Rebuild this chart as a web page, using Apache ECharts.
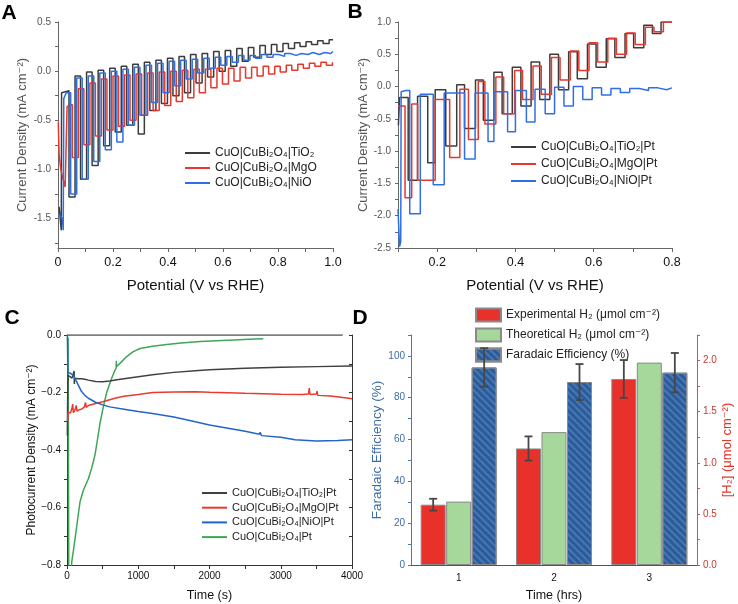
<!DOCTYPE html>
<html><head><meta charset="utf-8">
<script src="https://cdn.jsdelivr.net/npm/echarts@6/dist/echarts.min.js"></script>
<style>html,body{margin:0;padding:0;background:#fff}#c{width:738px;height:604px}</style>
</head><body><div id="c"></div>
<script>
// ---------- Panel A (chopped LSV, V vs RHE) ----------
const aNames = ['CuO|CuBi₂O₄|TiO₂', 'CuO|CuBi₂O₄|MgO', 'CuO|CuBi₂O₄|NiO'];
const aEnd = 1.0;
// TiO2
const aTiStart = [[0.004,-1.38],[0.012,-1.62],[0.013,-0.22],[0.02,-0.2]];
const aTiOn  = [0.040,0.082,0.124,0.166,0.208,0.250,0.292,0.334,0.376,0.418,0.460,0.502,0.544,0.586,0.628,0.670,0.712,0.754,0.796,0.838,0.880,0.922,0.964];
const aTiOff = [0.062,0.104,0.146,0.188,0.230,0.272,0.314,0.356,0.398,0.440,0.482,0.524,0.566,0.608,0.650,0.692,0.734,0.776,0.818,0.860,0.902,0.944,0.986];
const aTiLight = [-1.28,-1.10,-0.96,-0.76,-0.62,-0.55,-0.64,-0.40,-0.33,-0.25,-0.22,-0.12,-0.06,0.00,0.05,0.10,0.14,0.17,0.20,0.23,0.25,0.27,0.28];
const aTiDark  = [-0.05,-0.01,0.01,0.03,0.05,0.07,0.09,0.11,0.13,0.15,0.17,0.18,0.20,0.21,0.23,0.24,0.26,0.27,0.28,0.29,0.30,0.31,0.32];
// MgO
const aMgStart = [[0.001,-0.52],[0.004,-0.85],[0.010,-1.00],[0.026,-1.18],[0.032,-1.20],[0.033,-0.36],[0.040,-0.34]];
const aMgOn  = [0.052,0.094,0.136,0.178,0.220,0.262,0.304,0.346,0.388,0.430,0.472,0.514,0.556,0.598,0.640,0.682,0.724,0.766,0.808,0.850,0.892,0.934,0.976];
const aMgOff = [0.074,0.116,0.158,0.200,0.242,0.284,0.326,0.368,0.410,0.452,0.494,0.536,0.578,0.620,0.662,0.704,0.746,0.788,0.830,0.872,0.914,0.956,0.998];
const aMgLight = [-0.88,-0.75,-0.66,-0.60,-0.56,-0.50,-0.45,-0.40,-0.35,-0.31,-0.27,-0.22,-0.17,-0.13,-0.10,-0.07,-0.05,-0.03,-0.01,0.01,0.03,0.05,0.06];
const aMgDark  = [-0.18,-0.12,-0.08,-0.05,-0.04,-0.03,-0.02,-0.01,0.00,0.01,0.02,0.02,0.03,0.03,0.04,0.04,0.05,0.05,0.06,0.07,0.08,0.09,0.09];
// NiO
const aNiStart = [[0.002,-1.45],[0.016,-1.50],[0.019,-1.62],[0.021,-0.28],[0.030,-0.22]];
const aNiOn  = [0.046,0.088,0.130,0.172,0.214,0.256,0.298,0.340,0.382,0.424,0.466,0.508,0.550,0.592,0.634,0.676,0.718,0.760,0.802,0.844,0.886,0.928,0.970];
const aNiOff = [0.068,0.110,0.152,0.194,0.236,0.278,0.320,0.362,0.404,0.446,0.488,0.530,0.572,0.614,0.656,0.698,0.740,0.782,0.824,0.866,0.908,0.950,0.992];
const aNiLight = [-1.25,-1.10,-0.92,-0.80,-0.72,-0.55,-0.45,-0.32,-0.22,-0.15,-0.08,-0.02,0.03,0.06,0.09,0.11,0.13,0.14,0.15,0.16,0.17,0.17,0.18];
const aNiDark  = [-0.07,-0.05,-0.02,0.00,0.02,0.04,0.06,0.08,0.10,0.11,0.12,0.13,0.14,0.15,0.16,0.16,0.17,0.17,0.18,0.18,0.19,0.19,0.20];

// ---------- Panel B (chopped LSV with Pt) ----------
const bNames = ['CuO|CuBi₂O₄|TiO₂|Pt', 'CuO|CuBi₂O₄|MgO|Pt', 'CuO|CuBi₂O₄|NiO|Pt'];
const bEnd = 0.8;
const bTiStart = [[0.101,-0.6],[0.104,-0.17],[0.11,-0.17]];
const bTiOn  = [0.126,0.176,0.222,0.270,0.318,0.366,0.414,0.462,0.510,0.558,0.606,0.654,0.702,0.750];
const bTiOff = [0.150,0.195,0.250,0.298,0.345,0.392,0.440,0.488,0.536,0.584,0.632,0.680,0.728,0.772];
const bTiLight = [-1.45,-1.18,-0.92,-0.65,-0.52,-0.42,-0.30,-0.20,-0.05,0.12,0.30,0.45,0.60,0.82];
const bTiDark  = [-0.15,-0.05,0.03,0.10,0.22,0.30,0.38,0.50,0.54,0.66,0.74,0.82,0.95,1.00];
const bMgStart = [[0.100,-0.30]];
const bMgOn  = [0.118,0.150,0.232,0.280,0.322,0.370,0.418,0.466,0.514,0.562,0.610,0.658,0.706,0.754];
const bMgOff = [0.135,0.195,0.258,0.305,0.350,0.398,0.445,0.492,0.540,0.588,0.636,0.684,0.732,0.778];
const bMgLight = [-1.72,-1.45,-1.10,-0.82,-0.58,-0.42,-0.20,-0.12,0.10,0.25,0.38,0.50,0.65,0.85];
const bMgDark  = [-0.27,-0.20,-0.04,0.08,0.15,0.25,0.32,0.45,0.55,0.68,0.75,0.83,0.92,1.00];
const bNiStart = [[0.100,-1.90],[0.104,-2.48],[0.107,-2.40],[0.108,-0.08],[0.12,-0.06]];
const bNiOn  = [0.130,0.190,0.270,0.330,0.380,0.428,0.476,0.524,0.572,0.620,0.668,0.716,0.764];
const bNiOff = [0.157,0.218,0.297,0.345,0.400,0.450,0.500,0.548,0.596,0.644,0.692,0.740,0.786];
const bNiLight = [-1.97,-1.52,-1.12,-0.85,-0.70,-0.55,-0.42,-0.30,-0.20,-0.13,-0.09,-0.06,-0.05];
const bNiDark  = [-0.12,-0.10,-0.10,-0.08,-0.06,-0.04,-0.01,0.00,-0.02,-0.03,-0.03,-0.02,-0.02];

// ---------- Panel C (chronoamperometry) ----------
const cNames = ['CuO|CuBi₂O₄|TiO₂|Pt\u200B', 'CuO|CuBi₂O₄|MgO|Pt\u200B', 'CuO|CuBi₂O₄|NiO|Pt\u200B', 'CuO|CuBi₂O₄|Pt'];
const cZero = [[0,0],[3870,0]];
const cTi = [[5,-0.35],[10,-0.2],[15,-0.14],[40,-0.145],[70,-0.15],[95,-0.15],[100,-0.125],[103,-0.17],[108,-0.15],[150,-0.152],[200,-0.152],[250,-0.154],[300,-0.157],[400,-0.162],[500,-0.163],[600,-0.16],[700,-0.156],[800,-0.152],[1000,-0.145],[1200,-0.138],[1500,-0.13],[1800,-0.124],[2000,-0.121],[2500,-0.116],[3000,-0.112],[3500,-0.11],[4000,-0.108]];
const cMg = [[8,-0.30],[15,-0.27],[30,-0.265],[50,-0.27],[70,-0.255],[80,-0.24],[90,-0.27],[110,-0.262],[130,-0.245],[140,-0.265],[170,-0.26],[200,-0.258],[240,-0.252],[260,-0.235],[270,-0.252],[300,-0.245],[400,-0.238],[500,-0.232],[600,-0.225],[700,-0.218],[800,-0.213],[1000,-0.207],[1200,-0.2],[1500,-0.198],[1800,-0.197],[2000,-0.199],[2500,-0.203],[3000,-0.206],[3300,-0.207],[3390,-0.205],[3400,-0.185],[3410,-0.207],[3500,-0.205],[3510,-0.195],[3520,-0.21],[3700,-0.212],[3900,-0.218],[4000,-0.222]];
const cNi = [[5,0],[8,-0.05],[12,-0.13],[30,-0.13],[60,-0.135],[100,-0.145],[150,-0.17],[200,-0.195],[250,-0.21],[300,-0.22],[400,-0.234],[500,-0.243],[600,-0.25],[800,-0.258],[1000,-0.266],[1200,-0.273],[1500,-0.285],[1800,-0.302],[2000,-0.313],[2300,-0.326],[2500,-0.335],[2700,-0.345],[2710,-0.338],[2730,-0.35],[3000,-0.356],[3200,-0.364],[3500,-0.369],[3800,-0.367],[4000,-0.364]];
const cPt = [[16,-0.01],[20,-0.4],[26,-0.95],[50,-1.0],[66,-0.79],[90,-0.75],[112,-0.71],[150,-0.64],[183,-0.58],[230,-0.54],[300,-0.5],[350,-0.46],[393,-0.417],[430,-0.36],[463,-0.307],[510,-0.25],[557,-0.2],[620,-0.155],[674,-0.122],[690,-0.115],[692,-0.09],[694,-0.11],[750,-0.097],[838,-0.075],[930,-0.058],[1025,-0.047],[1200,-0.039],[1400,-0.033],[1600,-0.028],[1870,-0.023],[2100,-0.02],[2340,-0.017],[2550,-0.015],[2755,-0.013]];

// ---------- Panel D (bars) ----------
const dCats = ['1', '2', '3'];
const dNames = ['Experimental H₂ (μmol cm⁻²)', 'Theoretical H₂ (μmol cm⁻²)', 'Faradaic Efficiency (%)'];
const expH2 = [0.59, 1.14, 1.82];
const expErr = [0.058, 0.118, 0.185];
const theoH2 = [0.62, 1.30, 1.98];
const fe = [94.5, 87.5, 92.0];
const feErr = [9.2, 8.6, 9.4];

// ---------- helpers ----------
function steps(start, on, off, light, dark, endX) {
  const pts = start.map(p => p.slice());
  let prev = start[start.length - 1][1];
  for (let i = 0; i < on.length; i++) {
    pts.push([on[i], prev], [on[i], light[i]], [off[i], light[i]], [off[i], dark[i]]);
    prev = dark[i];
  }
  pts.push([endX, prev]);
  return pts;
}
const FONT = 'Liberation Sans, Arial, DejaVu Sans, sans-serif';
const K = '#3c3c3c', R = '#e8372c', B = '#2f6fe4';

function lineSeries(name, data, color, xi, yi, w) {
  return { type: 'line', name, data, xAxisIndex: xi, yAxisIndex: yi, showSymbol: false, symbol: 'none',
    lineStyle: { color, width: w || 1.5 }, itemStyle: { color }, animation: false, clip: true, silent: true };
}

function evenTenth(v) { return Math.round(v * 10) % 2 === 0; }

const chart = echarts.init(document.getElementById('c'), null, { renderer: 'canvas' });
const axisGray = { onZero: false, lineStyle: { color: '#666', width: 1 } };

const errRender = (offset) => function (params, api) {
  const cat = api.value(0), v = api.value(1), e = api.value(2);
  const top = api.coord([cat, v + e]), bot = api.coord([cat, v - e]);
  const x = top[0] + offset, hw = 4;
  const st = { stroke: '#474747', lineWidth: 1.8 };
  return { type: 'group', children: [
    { type: 'line', shape: { x1: x, y1: top[1], x2: x, y2: bot[1] }, style: st },
    { type: 'line', shape: { x1: x - hw, y1: top[1], x2: x + hw, y2: top[1] }, style: st },
    { type: 'line', shape: { x1: x - hw, y1: bot[1], x2: x + hw, y2: bot[1] }, style: st }
  ]};
};

const legText = (size, lh) => ({ fontSize: size, lineHeight: lh, color: '#222', fontFamily: FONT });

const option = {
  backgroundColor: '#fff',
  textStyle: { fontFamily: FONT },
  animation: false,
  grid: [
    { left: 58, top: 22, width: 275, height: 226 },
    { left: 398, top: 22, width: 274, height: 226 },
    { left: 67, top: 335, width: 285, height: 230 },
    { left: 411, top: 335, width: 286, height: 230 }
  ],
  xAxis: [
    { type: 'value', gridIndex: 0, min: 0, max: 1, interval: 0.1, splitLine: { show: false },
      axisLine: axisGray, axisTick: { length: 4, lineStyle: { color: '#666' } },
      axisLabel: { color: '#111', fontSize: 12.5, margin: 8, formatter: v => evenTenth(v) ? (Math.round(v * 10) === 0 ? '0' : v.toFixed(1)) : '' },
      name: 'Potential (V vs RHE)', nameLocation: 'middle', nameGap: 30, nameTextStyle: { color: '#111', fontSize: 15 } },
    { type: 'value', gridIndex: 1, min: 0.1, max: 0.8, interval: 0.1, splitLine: { show: false },
      axisLine: axisGray, axisTick: { length: 4, lineStyle: { color: '#666' } },
      axisLabel: { color: '#111', fontSize: 12.5, margin: 8, formatter: v => evenTenth(v) ? v.toFixed(1) : '' },
      name: 'Potential (V vs RHE)', nameLocation: 'middle', nameGap: 30, nameTextStyle: { color: '#111', fontSize: 15 } },
    { type: 'value', gridIndex: 2, min: 0, max: 4000, interval: 500, splitLine: { show: false },
      axisLine: { onZero: false, lineStyle: { color: '#333' } }, axisTick: { length: 4, lineStyle: { color: '#333' } },
      axisLabel: { color: '#111', fontSize: 10, margin: 6, formatter: v => (v % 1000 === 0 ? String(v) : '') },
      name: 'Time (s)', nameLocation: 'middle', nameGap: 24, nameTextStyle: { color: '#111', fontSize: 12.5 } },
    { type: 'category', gridIndex: 3, data: dCats, axisTick: { alignWithLabel: true, length: 4, lineStyle: { color: '#555' } },
      axisLine: { onZero: false, lineStyle: { color: '#555' } },
      axisLabel: { color: '#111', fontSize: 10, margin: 8 },
      name: 'Time (hrs)', nameLocation: 'middle', nameGap: 24, nameTextStyle: { color: '#111', fontSize: 12.5 } }
  ],
  yAxis: [
    { type: 'value', gridIndex: 0, min: -1.8, max: 0.5, splitLine: { show: false },
      axisLine: { show: true, onZero: false, lineStyle: { color: '#666' } },
      axisTick: { show: true, length: 3, customValues: [-1.75,-1.5,-1.25,-1,-0.75,-0.5,-0.25,0,0.25,0.5], lineStyle: { color: '#666' } },
      axisLabel: { color: '#555', fontSize: 10, margin: 7, customValues: [-1.5,-1,-0.5,0,0.5], formatter: v => v.toFixed(1) },
      name: 'Current Density (mA cm⁻²)', nameLocation: 'middle', nameGap: 29, nameTextStyle: { color: '#555', fontSize: 13 } },
    { type: 'value', gridIndex: 1, min: -2.5, max: 1.0, interval: 0.25, splitLine: { show: false },
      axisLine: { show: true, onZero: false, lineStyle: { color: '#666' } },
      axisTick: { show: true, length: 3, lineStyle: { color: '#666' } },
      axisLabel: { color: '#555', fontSize: 10, margin: 7, formatter: v => (Math.round(v * 4) % 2 === 0 ? v.toFixed(1) : '') },
      name: 'Current Density (mA cm⁻²)', nameLocation: 'middle', nameGap: 26, nameTextStyle: { color: '#555', fontSize: 13 } },
    { type: 'value', gridIndex: 2, min: -0.8, max: 0, interval: 0.1, splitLine: { show: false },
      axisLine: { show: true, onZero: false, lineStyle: { color: '#333' } },
      axisTick: { show: true, length: 3, lineStyle: { color: '#333' } },
      axisLabel: { color: '#111', fontSize: 10, margin: 6, formatter: v => (evenTenth(v) ? (Math.abs(v) < 1e-9 ? '0.0' : '−' + Math.abs(v).toFixed(1)) : '') },
      name: 'Photocurrent Density (mA cm⁻²)', nameLocation: 'middle', nameGap: 29, nameTextStyle: { color: '#111', fontSize: 12 } },
    { type: 'value', gridIndex: 2, position: 'right', min: -0.8, max: 0, interval: 0.1, splitLine: { show: false },
      axisLine: { show: true, onZero: false, lineStyle: { color: '#333' } },
      axisTick: { show: true, inside: true, length: 3, lineStyle: { color: '#333' } },
      axisLabel: { show: false } },
    { type: 'value', gridIndex: 3, min: 0, max: 110, interval: 10, splitLine: { show: false },
      axisLine: { show: true, onZero: false, lineStyle: { color: '#4a78b0' } },
      axisTick: { show: true, length: 3, lineStyle: { color: '#4a78b0' } },
      axisLabel: { color: '#3d6ca8', fontSize: 10, margin: 6, formatter: v => (v % 20 === 0 && v <= 100 ? String(v) : '') },
      name: 'Faradaic Efficiency (%)', nameLocation: 'middle', nameGap: 26, nameTextStyle: { color: '#3d6ca8', fontSize: 13.5 } },
    { type: 'value', gridIndex: 3, position: 'right', min: 0, max: 2.25, interval: 0.25, splitLine: { show: false },
      axisLine: { show: true, onZero: false, lineStyle: { color: '#c9554d' } },
      axisTick: { show: true, length: 3, lineStyle: { color: '#c9554d' } },
      axisLabel: { color: '#cc3a30', fontSize: 10, margin: 6, formatter: v => (Math.round(v * 4) % 2 === 0 ? v.toFixed(1) : '') },
      name: '[H₂] (μmol cm⁻²)', nameLocation: 'middle', nameGap: 24, nameTextStyle: { color: '#e0352b', fontSize: 13 } }
  ],
  legend: [
    { data: aNames, orient: 'vertical', left: 185, top: 145.5, padding: 0, icon: 'rect', itemWidth: 25, itemHeight: 2, itemGap: 0,
      textStyle: legText(12, 15), selectedMode: false },
    { data: bNames, orient: 'vertical', left: 511, top: 139.5, padding: 0, icon: 'rect', itemWidth: 25, itemHeight: 2, itemGap: 2,
      textStyle: legText(12, 15), selectedMode: false },
    { data: cNames, orient: 'vertical', left: 202, top: 486.5, padding: 0, icon: 'rect', itemWidth: 25, itemHeight: 2, itemGap: 1.7,
      textStyle: legText(11, 13), formatter: n => n.replace('\u200B', ''), selectedMode: false },
    { data: dNames, orient: 'vertical', left: 475, top: 307.5, padding: 0, icon: 'rect', itemWidth: 25, itemHeight: 13, itemGap: 5,
      textStyle: legText(12, 13), selectedMode: false }
  ],
  graphic: [
    { type: 'text', style: { text: 'A', x: 9, y: 13, align: 'center', verticalAlign: 'middle', fontSize: 21, fontWeight: 'bold', fontFamily: FONT, fill: '#000' } },
    { type: 'text', style: { text: 'B', x: 355, y: 12, align: 'center', verticalAlign: 'middle', fontSize: 21, fontWeight: 'bold', fontFamily: FONT, fill: '#000' } },
    { type: 'text', style: { text: 'C', x: 12, y: 318, align: 'center', verticalAlign: 'middle', fontSize: 21, fontWeight: 'bold', fontFamily: FONT, fill: '#000' } },
    { type: 'text', style: { text: 'D', x: 360, y: 318, align: 'center', verticalAlign: 'middle', fontSize: 21, fontWeight: 'bold', fontFamily: FONT, fill: '#000' } }
  ],
  series: [
    lineSeries(aNames[0], steps(aTiStart, aTiOn, aTiOff, aTiLight, aTiDark, aEnd), K, 0, 0),
    lineSeries(aNames[1], steps(aMgStart, aMgOn, aMgOff, aMgLight, aMgDark, aEnd), R, 0, 0),
    lineSeries(aNames[2], steps(aNiStart, aNiOn, aNiOff, aNiLight, aNiDark, aEnd), B, 0, 0),
    lineSeries(bNames[0], steps(bTiStart, bTiOn, bTiOff, bTiLight, bTiDark, bEnd), K, 1, 1),
    lineSeries(bNames[1], steps(bMgStart, bMgOn, bMgOff, bMgLight, bMgDark, bEnd), R, 1, 1),
    lineSeries(bNames[2], steps(bNiStart, bNiOn, bNiOff, bNiLight, bNiDark, bEnd), B, 1, 1),
    lineSeries('zero', cZero, '#555', 2, 2, 1.3),
    lineSeries(cNames[3], cPt, '#3ea657', 2, 2, 1.5),
    lineSeries(cNames[0], cTi, '#404040', 2, 2, 1.5),
    lineSeries(cNames[1], cMg, '#e83a2e', 2, 2, 1.5),
    lineSeries(cNames[2], cNi, '#2265c8', 2, 2, 1.5),
    { type: 'bar', name: dNames[0], xAxisIndex: 3, yAxisIndex: 5, data: expH2, barWidth: 25, barGap: '2%',
      itemStyle: { color: '#e8312a', borderColor: '#8a8a8a', borderWidth: 1 } },
    { type: 'bar', name: dNames[1], xAxisIndex: 3, yAxisIndex: 5, data: theoH2, barWidth: 25, barGap: '2%',
      itemStyle: { color: '#a6d89c', borderColor: '#8a8a8a', borderWidth: 1 } },
    { type: 'bar', name: dNames[2], xAxisIndex: 3, yAxisIndex: 4, data: fe, barWidth: 25, barGap: '2%',
      itemStyle: { color: '#2a5c9a', borderColor: '#8a8a8a', borderWidth: 1,
        decal: { symbol: 'rect', symbolSize: 1, dashArrayX: [[1, 0]], dashArrayY: [1.5, 2.5], rotation: Math.PI / 4, color: 'rgba(110,150,210,0.45)' } } },
    { type: 'custom', name: 'errExp', xAxisIndex: 3, yAxisIndex: 5, renderItem: errRender(-25.5),
      data: expH2.map((v, i) => [i, v, expErr[i]]), encode: { x: 0, y: 1 }, z: 5, silent: true },
    { type: 'custom', name: 'errFE', xAxisIndex: 3, yAxisIndex: 4, renderItem: errRender(25.5),
      data: fe.map((v, i) => [i, v, feErr[i]]), encode: { x: 0, y: 1 }, z: 5, silent: true }
  ]
};
chart.setOption(option);
</script></body></html>
